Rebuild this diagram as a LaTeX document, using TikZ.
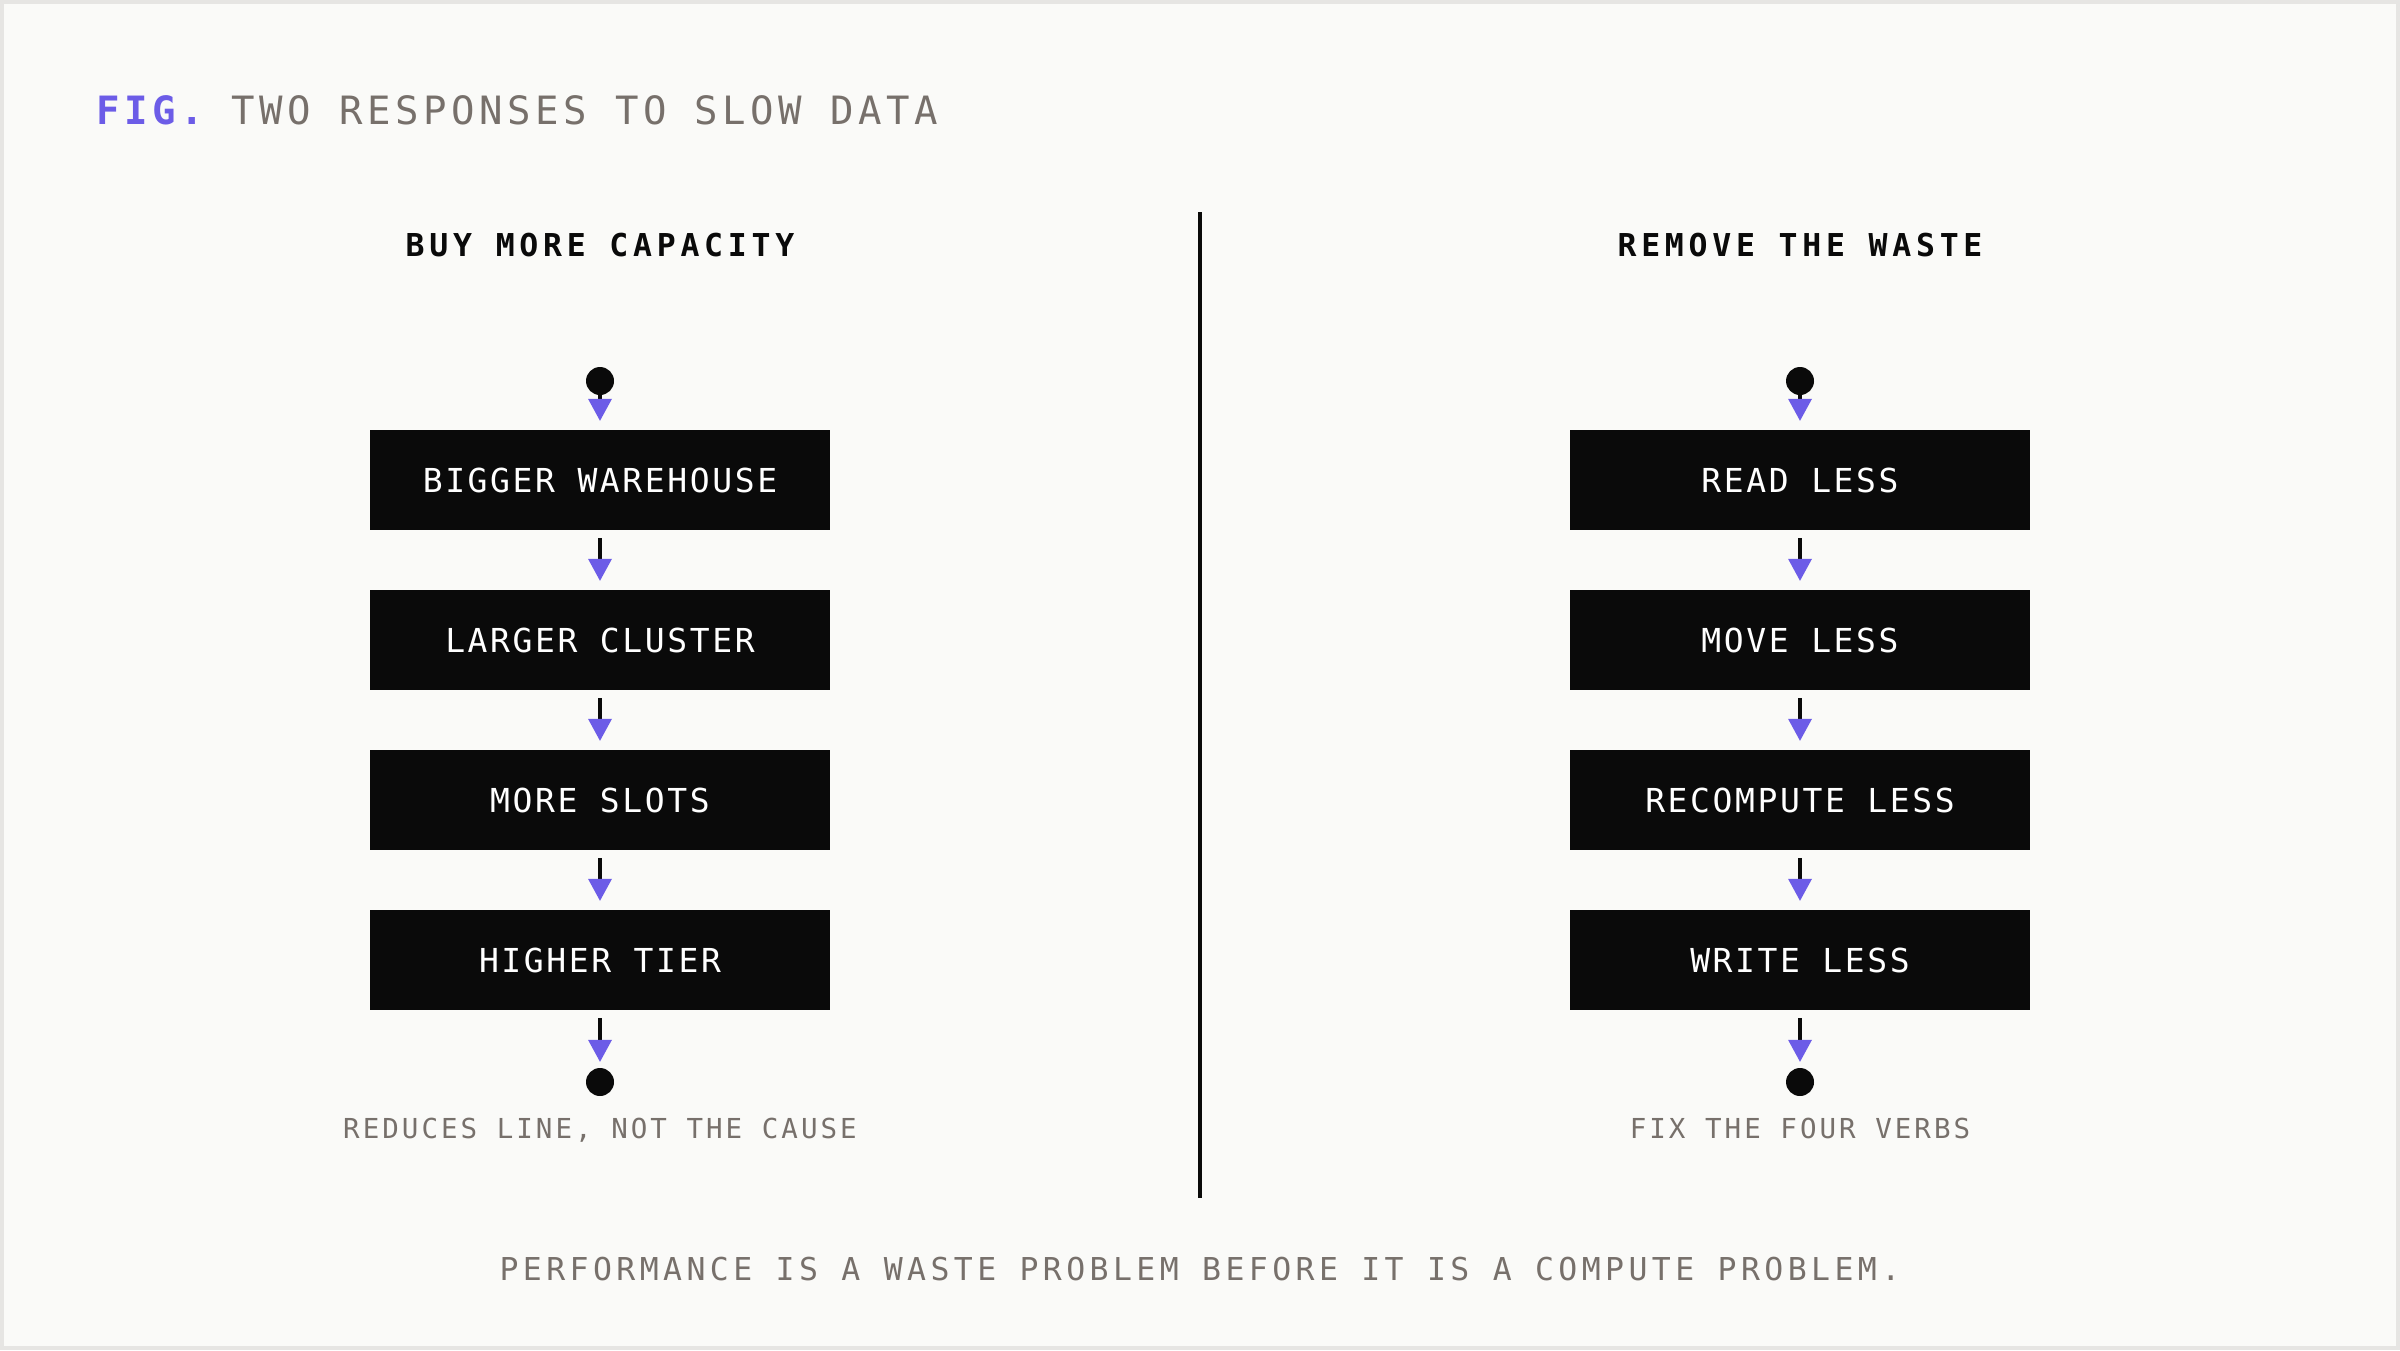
\documentclass[tikz,border=0pt]{standalone}
\usepackage{fontspec}
\usepackage{tikz}
\usetikzlibrary{arrows.meta}
\definecolor{pagebg}{HTML}{FAFAF8}
\definecolor{pageedge}{HTML}{E6E5E3}
\definecolor{figpurple}{HTML}{6C5CE7}
\definecolor{inkgray}{HTML}{77706B}
\definecolor{inkblack}{HTML}{0A0A0A}
\newfontfamily\titlefont[LetterSpace=11.7]{DejaVu Sans Mono}
\newfontfamily\headfont[LetterSpace=15]{DejaVu Sans Mono}
\newfontfamily\boxfont[LetterSpace=7.9]{DejaVu Sans Mono}
\newfontfamily\notefont[LetterSpace=11]{DejaVu Sans Mono}
\newfontfamily\tagfont[LetterSpace=14]{DejaVu Sans Mono}
\tikzset{
  stepbox/.style={fill=inkblack, text=white, minimum width=460pt, minimum height=100pt,
    inner sep=0pt, font=\boxfont\fontsize{33}{33}\selectfont},
  enddot/.style={circle, fill=inkblack, minimum size=28pt, inner sep=0pt},
  flow/.style={draw=inkblack, line width=4pt,
    -{Triangle[length=22pt, width=24pt, line width=0pt, color=figpurple]}},
  colhead/.style={anchor=base, inner sep=0pt, text=inkblack,
    font=\headfont\bfseries\fontsize{31.5}{31.5}\selectfont},
  colnote/.style={anchor=base, inner sep=0pt, text=inkgray,
    font=\notefont\fontsize{27.5}{27.5}\selectfont},
}
\begin{document}
\begin{tikzpicture}[x=1pt, y=-1pt]
	% page
	\fill[pagebg] (0,0) rectangle (2400,1350);
	\draw[pageedge, line width=4pt] (2,2) rectangle (2398,1348);
	\useasboundingbox (0,0) rectangle (2400,1350);
	
	% title
	\node[anchor=base west, inner sep=0pt, font=\titlefont\fontsize{39}{39}\selectfont] (title) at (96,124)
		{\textcolor{figpurple}{\bfseries FIG.} \textcolor{inkgray}{TWO RESPONSES TO SLOW DATA}};
	
	% divider
	\draw[inkblack, line width=4.5pt] (1200,212) -- (1200,1198);
	
	% column heads
	\node[colhead] (lhead) at (600,256) {BUY MORE CAPACITY};
	\node[colhead] (rhead) at (1800,256) {REMOVE THE WASTE};
	
	% start dots
	\node[enddot] (ltop) at (600,381) {};
	\node[enddot] (rtop) at (1800,381) {};
	
	% steps
	\foreach \i/\txt in {1/BIGGER WAREHOUSE, 2/LARGER CLUSTER, 3/MORE SLOTS, 4/HIGHER TIER} {
		\node[stepbox] (lbox\i) at (600,320+160*\i) {\txt};
	}
	\foreach \i/\txt in {1/READ LESS, 2/MOVE LESS, 3/RECOMPUTE LESS, 4/WRITE LESS} {
		\node[stepbox] (rbox\i) at (1800,320+160*\i) {\txt};
	}
	
	% end dots
	\node[enddot] (lend) at (600,1082) {};
	\node[enddot] (rend) at (1800,1082) {};
	
	% connectors
	\foreach \s in {l,r} {
		\draw[flow, shorten >=9pt] (\s top) -- (\s box1);
		\foreach \i/\j in {1/2, 2/3, 3/4} {
			\draw[flow, shorten <=8pt, shorten >=9pt] (\s box\i) -- (\s box\j);
		}
		\draw[flow, shorten <=8pt, shorten >=6pt] (\s box4) -- (\s end);
	}
	
	% notes
	\node[colnote] (lnote) at (600,1138) {REDUCES LINE, NOT THE CAUSE};
	\node[colnote] (rnote) at (1800,1138) {FIX THE FOUR VERBS};
	
	% tagline
	\node[anchor=base, inner sep=0pt, text=inkgray, font=\tagfont\fontsize{31.5}{31.5}\selectfont] (tagline)
		at (1200,1280) {PERFORMANCE IS A WASTE PROBLEM BEFORE IT IS A COMPUTE PROBLEM.};
	
\end{tikzpicture}
\end{document}
